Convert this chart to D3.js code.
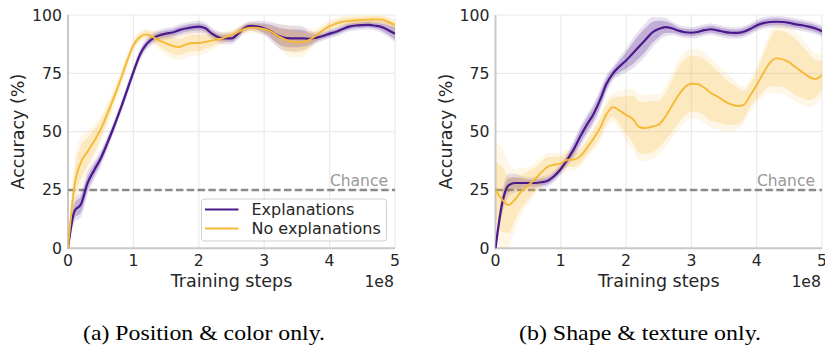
<!DOCTYPE html>
<html>
<head>
<meta charset="utf-8">
<script src="https://cdn.jsdelivr.net/npm/d3@7"></script>
<style>
  body { margin: 0; background: #fff; }
  svg { display: block; }
</style>
</head>
<body>
<div id="chart"></div>
<script>
// training steps (x 1e8)
var steps = [0, 0.1, 0.2, 0.3, 0.4, 0.5, 0.6, 0.7, 0.8, 0.9,
  1.0, 1.1, 1.2, 1.3, 1.4, 1.5, 1.6, 1.7, 1.8, 1.9,
  2.0, 2.1, 2.2, 2.3, 2.4, 2.5, 2.6, 2.7, 2.8, 2.9,
  3.0, 3.1, 3.2, 3.3, 3.4, 3.5, 3.6, 3.7, 3.8, 3.9,
  4.0, 4.1, 4.2, 4.3, 4.4, 4.5, 4.6, 4.7, 4.8, 4.9, 5.0];

var xTicks = [0, 1, 2, 3, 4, 5];
var yTicks = [0, 25, 50, 75, 100];
var chanceLevel = 25;
var seriesNames = ["Explanations", "No explanations"];
var captions = ["(a) Position & color only.", "(b) Shape & texture only."];

// (a) position & color: mean accuracy
var posExpl = [0, 16, 19, 28, 33.5, 38.5, 45, 52, 59.5, 67.5,
  75.5, 83, 87.5, 90, 91.3, 92, 92.5, 93.5, 94.2, 94.7,
  95, 94.3, 92, 90.5, 90, 90, 92, 94.5, 95.3, 95,
  94.3, 93, 91.3, 90.3, 90, 90, 90, 89.8, 90.3, 91,
  92, 92.8, 94, 95, 95.5, 95.7, 95.8, 95.4, 94.8, 93.5, 92];
var posNoExpl = [0, 27, 37, 41.5, 46, 51, 57.5, 64.5, 72, 80,
  87, 90.6, 91.7, 90.5, 89, 87.8, 86.8, 86.3, 87.3, 88,
  88, 88.5, 89, 89.6, 90.4, 91.5, 92.7, 94, 94.6, 94.5,
  94, 93, 91.2, 89.8, 88.7, 88.3, 88.4, 89.5, 91.3, 93.5,
  95.2, 96.3, 97.1, 97.5, 97.7, 97.9, 98, 98.1, 98, 97, 95.7];
// band half-widths (inner / outer)
var posExplIn = [0.5, 3, 3.5, 3, 2.5, 2, 1.8, 1.5, 1.5, 1.5,
  1.5, 1.5, 1.5, 1.5, 1.5, 1.5, 1.5, 1.5, 1.5, 1.5,
  1.5, 1.5, 1.5, 1.5, 1.5, 1.5, 1.5, 1.2, 1.2, 1.5,
  2, 2.8, 3.5, 3.8, 3.8, 3.8, 3.5, 2.5, 1.5, 1.2,
  1.2, 1.2, 1.2, 1.2, 1.2, 1.2, 1.2, 1.2, 1.5, 2, 2.5];
var posExplOut = [1, 5, 5.5, 5, 4, 3.5, 3, 2.5, 2.5, 2.5,
  2.5, 2.5, 2.5, 2.5, 2.5, 2.5, 2.5, 2.5, 2.5, 2.5,
  2.5, 2.5, 2.5, 2.5, 2.5, 2.5, 2.5, 2, 2, 2.5,
  3, 4, 5, 5.5, 5.5, 5.5, 5, 3.5, 2.5, 2,
  2, 2, 2, 2, 2, 2, 2, 2, 2.5, 3, 3.5];
var posNoExplIn = [1, 6, 7, 6, 5, 4, 3, 2.5, 2, 2,
  1.5, 1.5, 1.5, 2, 2.5, 3, 3.5, 3.5, 3.5, 3.5,
  3.5, 3, 2.5, 2, 1.5, 1.5, 1.5, 1.5, 1.5, 1.5,
  1.5, 2, 3, 4, 4.5, 4.5, 4, 3, 2, 1.5,
  1.5, 1.5, 1.5, 1.5, 1.5, 1.5, 1.5, 1.5, 1.5, 1.5, 1.5];
var posNoExplOut = [2, 10, 11, 9, 7, 6, 5, 4, 3.5, 3,
  2.5, 2.5, 2.5, 3, 4, 5, 5.5, 5.5, 5.5, 5.5,
  5.5, 5, 4, 3, 2.5, 2.5, 2.5, 2.5, 2.5, 2.5,
  2.5, 3, 4.5, 6, 6.5, 6.5, 6, 4.5, 3, 2.5,
  2.5, 2.5, 2.5, 2.5, 2.5, 2.5, 2.5, 2.5, 2.5, 2.5, 2.5];

// (b) shape & texture: mean accuracy
var shapeExpl = [0, 19, 27, 28, 28, 28, 28, 28.3, 29, 31,
  34, 38, 42.5, 48, 53, 57.5, 63.5, 70.5, 75, 78,
  80.5, 83.5, 86.5, 89.5, 92.5, 94, 94.8, 94.3, 93.3, 92.6,
  92.4, 92.8, 93.5, 93.9, 93.4, 92.8, 92.4, 92.3, 92.8, 94,
  95.5, 96.5, 97, 97.1, 97, 96.6, 96, 95.6, 95, 94.2, 93];
var shapeNoExpl = [25, 21, 18.5, 21, 24.5, 27, 29.5, 32.5, 35, 35.8,
  36.4, 37.9, 38, 39.5, 43, 47, 51.5, 57.5, 60.5, 59,
  57.2, 55.5, 52, 51.5, 52.2, 53, 56.4, 61, 65.5, 69,
  70.5, 70.3, 68.8, 66.6, 65, 63.2, 61.8, 61, 61.5, 65.5,
  70, 75, 79.5, 81.4, 81, 79.7, 77.5, 75.5, 73.5, 72.6, 74.3];
var shapeExplIn = [1, 3, 3, 2.5, 2, 1.5, 1.5, 1.5, 1.5, 1.5,
  1.5, 2, 2.5, 3, 3, 3, 3, 2.5, 2, 2.5,
  3.5, 4.5, 5, 5, 4.5, 3.5, 2.5, 2, 1.5, 1.5,
  1.5, 1.5, 1.5, 1.5, 1.5, 1.5, 1.5, 1.5, 1.5, 1.5,
  1.5, 1.5, 1.5, 1.5, 1.5, 1.5, 1.5, 1.5, 1.5, 1.5, 1.5];
var shapeExplOut = [2, 5, 5, 4, 3, 2.5, 2.5, 2.5, 2.5, 2.5,
  2.5, 3, 4, 4.5, 4.5, 4.5, 4.5, 4, 3, 4,
  5, 6.5, 7, 7, 6.5, 5, 4, 3, 2.5, 2.5,
  2.5, 2.5, 2.5, 2.5, 2.5, 2.5, 2.5, 2.5, 2.5, 2.5,
  2.5, 2.5, 2.5, 2.5, 2.5, 2.5, 2.5, 2.5, 2.5, 2.5, 2.5];
var shapeNoExplIn = [12, 14, 12, 9, 7, 6, 5, 4.5, 4, 3.5,
  3, 3, 3, 3, 3, 3.5, 4, 4, 4, 6,
  8, 10, 11, 11, 11, 10, 10, 11, 12, 12,
  12, 12, 12, 12, 11, 10, 9, 8, 6, 5,
  6, 8, 10, 12, 12, 12, 12, 11, 10, 8, 6];
var shapeNoExplOut = [20, 22, 18, 13, 10, 8, 7, 6.5, 6, 5,
  4.5, 4.5, 4.5, 4.5, 4.5, 5, 6, 6, 6, 8.5,
  11, 13, 14, 14, 14, 13, 13, 14, 15, 15,
  15, 15, 15, 15, 14, 13, 12, 10, 8, 7,
  8, 10, 13, 15, 15, 15, 15, 14, 13, 11, 9];

var colors = ["#4a1a8c", "#f5b936"];

var W = 825, H = 349;
var svg = d3.select("#chart").append("svg")
  .attr("width", W).attr("height", H)
  .style("font-family", "'DejaVu Sans', sans-serif");

var panels = [
  { left: 68, right: 395, ylab: 24, cap: 204,
    series: [
      { mean: posExpl, inner: posExplIn, outer: posExplOut },
      { mean: posNoExpl, inner: posNoExplIn, outer: posNoExplOut }],
    legend: true },
  { left: 495.5, right: 822, ylab: 452, cap: 640,
    series: [
      { mean: shapeExpl, inner: shapeExplIn, outer: shapeExplOut },
      { mean: shapeNoExpl, inner: shapeNoExplIn, outer: shapeNoExplOut }],
    legend: false }
];

var plotTop = 15, plotBottom = 248.3;

panels.forEach(function (p, pi) {
  var x = d3.scaleLinear().domain([0, 5]).range([p.left, p.right]);
  var y = d3.scaleLinear().domain([0, 100]).range([plotBottom, plotTop]);
  var g = svg.append("g");

  g.append("clipPath").attr("id", "clip" + pi)
    .append("rect")
    .attr("x", p.left).attr("y", plotTop)
    .attr("width", p.right - p.left).attr("height", plotBottom - plotTop);

  // grid
  g.selectAll(".vg").data(xTicks.slice(1)).join("line")
    .attr("x1", d => x(d)).attr("x2", d => x(d))
    .attr("y1", plotTop).attr("y2", plotBottom)
    .attr("stroke", "#ebebeb").attr("stroke-width", 1.2);
  g.selectAll(".hg").data(yTicks.slice(1)).join("line")
    .attr("x1", p.left).attr("x2", p.right)
    .attr("y1", d => y(d)).attr("y2", d => y(d))
    .attr("stroke", "#ebebeb").attr("stroke-width", 1.2);

  // spines
  g.append("line").attr("x1", p.left).attr("x2", p.left)
    .attr("y1", plotTop).attr("y2", plotBottom + 1)
    .attr("stroke", "#c8c8c8").attr("stroke-width", 2);
  g.append("line").attr("x1", p.left - 1).attr("x2", p.right)
    .attr("y1", plotBottom).attr("y2", plotBottom)
    .attr("stroke", "#c8c8c8").attr("stroke-width", 2);

  // chance line
  g.append("line").attr("x1", p.left).attr("x2", p.right)
    .attr("y1", y(chanceLevel)).attr("y2", y(chanceLevel))
    .attr("stroke", "#8a8a8a").attr("stroke-width", 2.4)
    .attr("stroke-dasharray", "7.4,3.4");
  g.append("text")
    .attr("x", p.right - 7).attr("y", y(chanceLevel) - 4)
    .attr("text-anchor", "end")
    .attr("font-size", "15.5px").attr("fill", "#999")
    .text("Chance");

  var plot = g.append("g").attr("clip-path", "url(#clip" + pi + ")");

  // bands
  p.series.forEach(function (s, si) {
    var band = function (w) {
      return d3.area()
        .x((d, i) => x(steps[i]))
        .y0((d, i) => y(s.mean[i] - w[i]))
        .y1((d, i) => y(s.mean[i] + w[i]))
        .curve(d3.curveMonotoneX);
    };
    plot.append("path").datum(s.mean)
      .attr("fill", colors[si]).attr("opacity", si == 0 ? 0.13 : 0.12)
      .attr("d", band(s.outer));
    plot.append("path").datum(s.mean)
      .attr("fill", colors[si]).attr("opacity", si == 0 ? 0.25 : 0.22)
      .attr("d", band(s.inner));
  });

  // lines
  p.series.forEach(function (s, si) {
    plot.append("path").datum(s.mean)
      .attr("fill", "none")
      .attr("stroke", colors[si])
      .attr("stroke-width", si == 0 ? 2.2 : 1.9)
      .attr("d", d3.line()
        .x((d, i) => x(steps[i]))
        .y(d => y(d))
        .curve(d3.curveMonotoneX));
  });

  // tick labels
  g.selectAll(".xt").data(xTicks).join("text")
    .attr("x", d => x(d)).attr("y", 265.5)
    .attr("text-anchor", "middle")
    .attr("font-size", "15.7px").attr("fill", "#262626")
    .text(d => d);
  g.selectAll(".yt").data(yTicks).join("text")
    .attr("x", p.left - 6).attr("y", d => y(d) + 5.5)
    .attr("text-anchor", "end")
    .attr("font-size", "15.7px").attr("fill", "#262626")
    .text(d => d);

  g.append("text")
    .attr("x", (p.left + p.right) / 2).attr("y", 287)
    .attr("text-anchor", "middle")
    .attr("font-size", "17.5px").attr("fill", "#262626")
    .text("Training steps");
  g.append("text")
    .attr("x", p.right - 1).attr("y", 287)
    .attr("text-anchor", "end")
    .attr("font-size", "15.7px").attr("fill", "#262626")
    .text("1e8");
  g.append("text")
    .attr("transform", "translate(" + p.ylab + "," + ((plotTop + plotBottom) / 2) + ") rotate(-90)")
    .attr("text-anchor", "middle")
    .attr("font-size", "17.5px").attr("fill", "#262626")
    .text("Accuracy (%)");

  // caption
  svg.append("text")
    .attr("x", p.cap).attr("y", 340)
    .attr("text-anchor", "middle")
    .attr("font-family", "'Liberation Serif', serif")
    .attr("font-size", "22px").attr("fill", "#000")
    .attr("textLength", 242).attr("lengthAdjust", "spacingAndGlyphs")
    .text(captions[pi]);

  if (p.legend) {
    var lg = g.append("g");
    lg.append("rect")
      .attr("x", 201.5).attr("y", 199)
      .attr("width", 185).attr("height", 42)
      .attr("rx", 3)
      .attr("fill", "#fff").attr("fill-opacity", 0.85)
      .attr("stroke", "#d0d0d0").attr("stroke-width", 1);
    seriesNames.forEach(function (n, i) {
      var yy = 209.5 + i * 19;
      lg.append("line")
        .attr("x1", 205).attr("x2", 238.5)
        .attr("y1", yy).attr("y2", yy)
        .attr("stroke", colors[i]).attr("stroke-width", i == 0 ? 2.2 : 1.9);
      lg.append("text")
        .attr("x", 251.5).attr("y", yy + 5.5)
        .attr("font-size", "16px").attr("fill", "#262626")
        .text(n);
    });
  }
});
</script>
</body>
</html>
